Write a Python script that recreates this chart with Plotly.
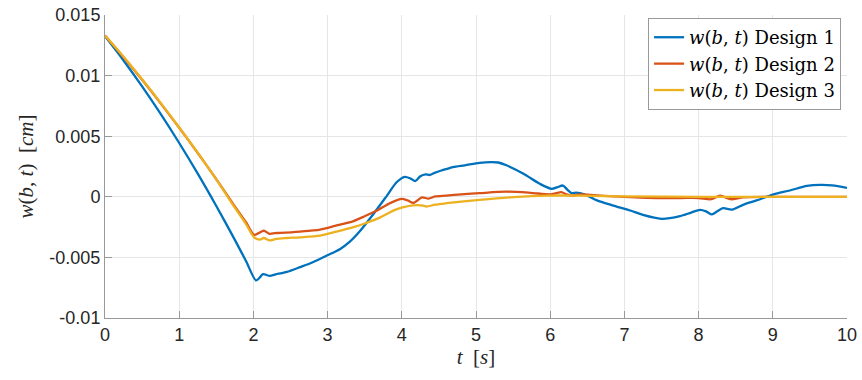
import plotly.graph_objects as go

# Tip deflection w(b,t) of the flexible beam for three controller designs
t_design1 = [0.00, 0.25, 0.50, 0.75, 1.00, 1.25, 1.50, 1.75, 1.90, 2.035, 2.08, 2.13, 2.22,
             2.30, 2.36, 2.45, 2.63, 2.80, 2.99, 3.17, 3.30, 3.44, 3.62, 3.80, 3.93, 4.04,
             4.12, 4.18, 4.25, 4.32, 4.38, 4.45, 4.55, 4.69, 4.85, 5.05, 5.20, 5.30, 5.41,
             5.64, 5.86, 6.02, 6.10, 6.17, 6.23, 6.29, 6.35, 6.40, 6.50, 6.63, 6.85, 7.08,
             7.25, 7.50, 7.75, 7.90, 8.02, 8.10, 8.18, 8.25, 8.33, 8.45, 8.60, 8.78, 9.01,
             9.23, 9.46, 9.64, 9.80, 10.0]
w_design1 = [0.01325, 0.01125, 0.00911, 0.00684, 0.00444, 0.00191, -0.00076, -0.00355, -0.0053,
             -0.0069, -0.0067, -0.00638, -0.00653, -0.0064, -0.00632, -0.0062, -0.0058, -0.0054,
             -0.00485, -0.0043, -0.0037, -0.0028, -0.0014, 0.0001, 0.0012, 0.00165, 0.0015, 0.0013,
             0.0017, 0.00185, 0.0018, 0.0020, 0.0022, 0.00245, 0.0026, 0.0028, 0.00286, 0.00283,
             0.0026, 0.0019, 0.00107, 0.00066, 0.0008, 0.00093, 0.0006, 0.0003, 0.00035, 0.0003,
             0.0001, -0.0003, -0.00072, -0.00113, -0.0015, -0.00182, -0.0016, -0.0013, -0.00108,
             -0.0012, -0.00145, -0.0012, -0.00094, -0.00105, -0.00066, -0.0003, 0.0002, 0.00052,
             0.0009, 0.00099, 0.00095, 0.00074]

t_design2 = [0.00, 0.25, 0.50, 0.75, 1.00, 1.25, 1.50, 1.75, 1.90, 2.01, 2.07, 2.14, 2.22, 2.29,
             2.36, 2.63, 2.90, 3.10, 3.35, 3.50, 3.66, 3.85, 4.00, 4.08, 4.16, 4.27, 4.36, 4.45,
             4.60, 4.80, 5.05, 5.41, 5.73, 6.00, 6.08, 6.15, 6.22, 6.29, 6.40, 6.55, 6.80, 7.00,
             7.30, 7.75, 8.00, 8.17, 8.29, 8.43, 8.60, 9.00, 10.0]
w_design2 = [0.0133, 0.01151, 0.00965, 0.00771, 0.0057, 0.00361, 0.00145, -0.00079, -0.0021,
             -0.00314, -0.0030, -0.0028, -0.00306, -0.0030, -0.00298, -0.00287, -0.0027, -0.0024,
             -0.0020, -0.0016, -0.00115, -0.0005, -0.00017, -0.0003, -0.0005, -0.00005, -0.00015,
             0.00003, 0.0001, 0.0002, 0.0003, 0.00042, 0.00033, 0.0002, 0.0003, 0.00038, 0.0002,
             0.0001, 0.0002, 0.00015, 0.00005, 0.0, -0.00008, -0.0001, -0.0001, -0.0002, 0.0001,
             -0.0002, -0.00005, 0.0, 0.0]

t_design3 = [0.00, 0.25, 0.50, 0.75, 1.00, 1.25, 1.50, 1.75, 1.90, 2.01, 2.09, 2.14, 2.22, 2.31,
             2.45, 2.63, 2.90, 3.10, 3.35, 3.50, 3.71, 3.90, 4.02, 4.15, 4.29, 4.33, 4.45, 4.60,
             4.80, 5.05, 5.50, 5.95, 6.40, 7.00, 8.00, 10.0]
w_design3 = [0.0133, 0.01155, 0.0097, 0.00775, 0.00572, 0.00362, 0.00143, -0.0009, -0.00225,
             -0.00334, -0.00353, -0.0034, -0.0036, -0.00347, -0.0034, -0.00334, -0.0032, -0.0029,
             -0.0025, -0.0022, -0.0017, -0.0011, -0.00086, -0.0007, -0.00072, -0.0008, -0.00065,
             -0.00053, -0.0004, -0.00025, -0.00003, 0.0001, 0.0001, 0.00003, 0.0, 0.0]

x_ticks = [0, 1, 2, 3, 4, 5, 6, 7, 8, 9, 10]
y_ticks = [-0.01, -0.005, 0, 0.005, 0.01, 0.015]
y_tick_text = ["-0.01", "-0.005", "0", "0.005", "0.01", "0.015"]

series = [
    (t_design1, w_design1, "#0072BD", "Design 1"),
    (t_design2, w_design2, "#D95319", "Design 2"),
    (t_design3, w_design3, "#EDB120", "Design 3"),
]

fig = go.Figure()
for t, w, color, name in series:
    fig.add_trace(go.Scatter(
        x=t, y=w, mode="lines",
        line=dict(color=color, width=2.3, shape="spline", smoothing=0.8),
        name="<i>w</i>(<i>b</i>, <i>t</i>) " + name,
    ))

axis_common = dict(
    showline=True, linecolor="#999999", linewidth=1,
    ticks="inside", tickcolor="#999999", ticklen=7, tickwidth=1,
    showgrid=True, gridcolor="#e6e6e6", gridwidth=1,
    zeroline=False, automargin=False,
    tickfont=dict(family="Liberation Sans, Arial, sans-serif", size=18, color="#262626"),
)

fig.update_xaxes(
    range=[0, 10], tickvals=x_ticks,
    title=dict(text="<i>t</i>  [<i>s</i>]",
               font=dict(family="Liberation Serif, serif", size=21, color="#262626"),
               standoff=4),
    **axis_common,
)
fig.update_yaxes(
    range=[-0.01, 0.015], tickvals=y_ticks, ticktext=y_tick_text,
    title=dict(text="<i>w</i>(<i>b</i>, <i>t</i>)  [<i>cm</i>]",
               font=dict(family="Liberation Serif, serif", size=21, color="#262626"),
               standoff=10),
    **axis_common,
)

fig.update_layout(
    width=862, height=380,
    margin=dict(l=105, r=15, t=15, b=62),
    paper_bgcolor="white", plot_bgcolor="white",
    legend=dict(
        x=0.992, y=0.99, xanchor="right", yanchor="top",
        bgcolor="white", bordercolor="#999999", borderwidth=1,
        font=dict(family="DejaVu Serif, serif", size=18, color="#000000"),
        itemwidth=30, tracegroupgap=0,
    ),
    showlegend=True,
)

fig.write_html("out.html", config={"displayModeBar": False})
